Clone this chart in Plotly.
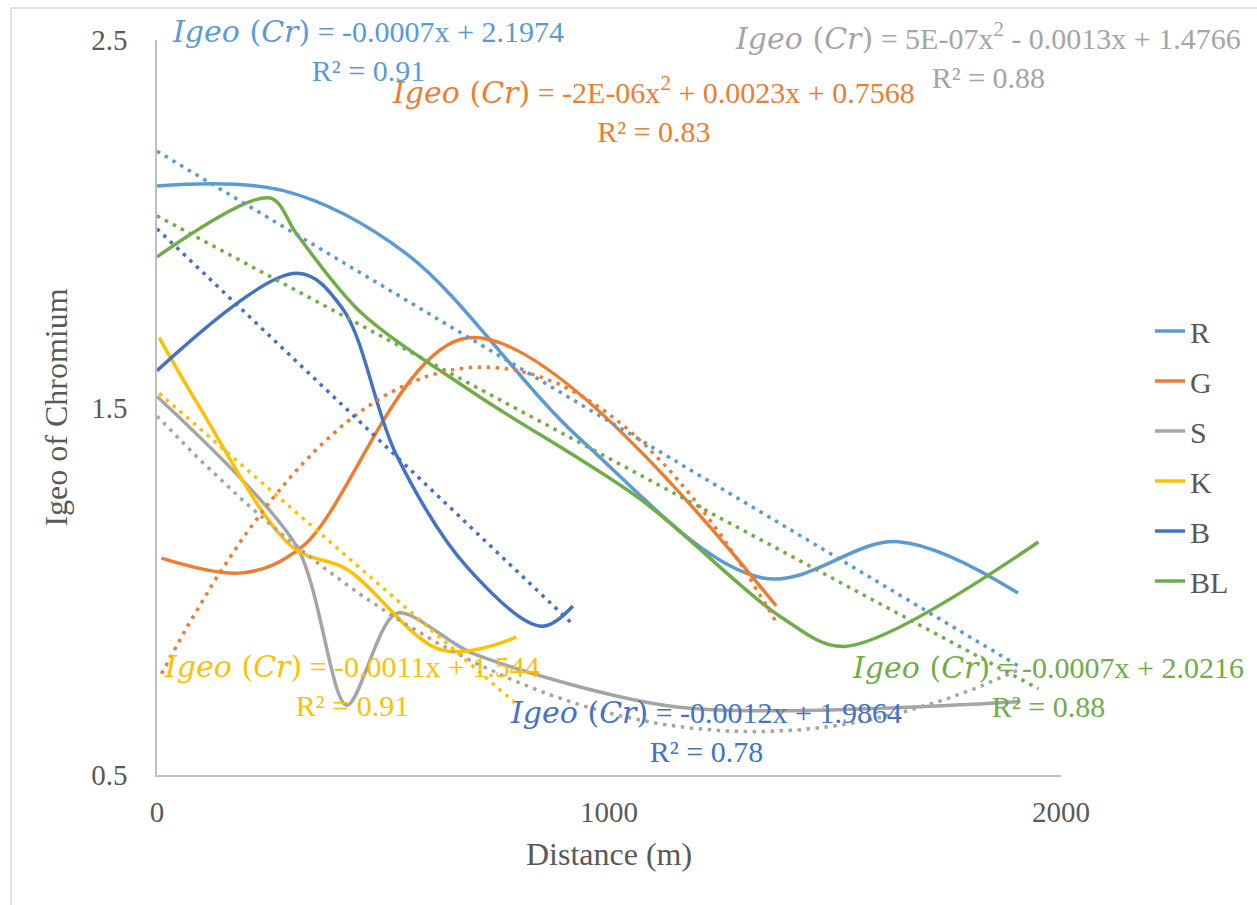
import numpy as np
import plotly.graph_objects as go

# ---------------- data ----------------
names = ["R", "G", "S", "K", "B", "BL"]
colors = ["#5B9BD5", "#ED7D31", "#A5A5A5", "#FFC000", "#4472C4", "#70AD47"]

R_x = [0, 280, 550, 940, 1340, 1640, 1905]
R_y = [2.103, 2.09, 1.92, 1.41, 1.036, 1.135, 0.995]

G_x = [10, 190, 320, 690, 1370]
G_y = [1.09, 1.05, 1.12, 1.69, 0.96]

S_x = [0, 310, 420, 530, 700, 1150, 1910]
S_y = [1.53, 1.12, 0.69, 0.94, 0.83, 0.685, 0.70]

K_x = [5, 90, 300, 420, 630, 795]
K_y = [1.69, 1.51, 1.12, 1.06, 0.84, 0.875]

B_x = [0, 310, 410, 530, 690, 850, 920]
B_y = [1.60, 1.865, 1.77, 1.37, 1.06, 0.905, 0.96]

BL_x = [0, 250, 310, 450, 700, 1070, 1380, 1520, 1950]
BL_y = [1.91, 2.07, 1.97, 1.76, 1.54, 1.25, 0.93, 0.85, 1.134]

smooth = [1.0, 1.0, 0.8, 1.0, 1.0, 0.9]

# trendline coefficients (highest power first), as drawn in the reference
R_trend = [-0.000735, 2.1974]
G_trend = [-1.65e-6, 0.00238, 0.752]
S_trend = [4.92e-7, -0.0013, 1.4766]
K_trend = [-0.00107, 1.544]
B_trend = [-0.00117, 1.9864]
BL_trend = [-0.00066, 2.0216]

trend_labels = [
    ("= -0.0007x + 2.1974", "R² = 0.91"),
    ("= -2E-06x<sup>2</sup> + 0.0023x + 0.7568", "R² = 0.83"),
    ("= 5E-07x<sup>2</sup> - 0.0013x + 1.4766", "R² = 0.88"),
    ("= -0.0011x + 1.544", "R² = 0.91"),
    ("= -0.0012x + 1.9864", "R² = 0.78"),
    ("= -0.0007x + 2.0216", "R² = 0.88"),
]

x_ticks = [0, 1000, 2000]
y_ticks = [0.5, 1.5, 2.5]

series_x = [R_x, G_x, S_x, K_x, B_x, BL_x]
series_y = [R_y, G_y, S_y, K_y, B_y, BL_y]
trends = [R_trend, G_trend, S_trend, K_trend, B_trend, BL_trend]

# ---------------- layout geometry ----------------
W, H = 1257, 905
ML, MR, MT, MB = 157, 196, 40, 130
PW, PH = W - ML - MR, H - MT - MB


def pxx(x):
    return (x - ML) / PW


def pxy(y):
    return (H - MB - y) / PH


SERIF = "Liberation Serif, Times New Roman, serif"
MATH = "DejaVu Serif, serif"
AXC = "#595959"

fig = go.Figure()

for n, c, xs, ys, sm in zip(names, colors, series_x, series_y, smooth):
    fig.add_trace(go.Scatter(
        x=xs, y=ys, mode="lines", name=n,
        line=dict(color=c, width=3.5, shape="spline", smoothing=sm),
        legendgroup=n, showlegend=True, hoverinfo="skip"))

for n, c, xs, tr in zip(names, colors, series_x, trends):
    tx = np.linspace(min(xs), max(xs), 200)
    fig.add_trace(go.Scatter(
        x=tx, y=np.polyval(tr, tx), mode="lines", name=n + " trend",
        line=dict(color=c, width=3.5, dash="3.5px,5.5px"),
        showlegend=False, hoverinfo="skip"))

# trendline label positions (pixel centres of the two-line blocks)
label_pos = [(368, 50), (653, 109), (988, 55), (352, 685), (706, 731), (1048, 686)]
for (eq, r2), c, (lx, ly) in zip(trend_labels, colors, label_pos):
    txt = (f"<span style='font-family:{MATH}'><i>Igeo</i> (<i>Cr</i>)</span> "
           f"{eq}<br>{r2}")
    fig.add_annotation(x=pxx(lx), y=pxy(ly), xref="paper", yref="paper",
                       text=txt, showarrow=False, align="center",
                       xanchor="center", yanchor="middle",
                       font=dict(family=SERIF, size=30, color=c))

# outer chart border
fig.add_shape(type="rect", xref="paper", yref="paper",
              x0=pxx(11), y0=pxy(8), x1=pxx(1300), y1=pxy(960),
              line=dict(color="#D9D9D9", width=1.5), layer="below")

fig.update_layout(
    width=W, height=H,
    margin=dict(l=ML, r=MR, t=MT, b=MB, pad=0),
    paper_bgcolor="white", plot_bgcolor="white",
    font=dict(family=SERIF, color=AXC),
    showlegend=True,
    legend=dict(x=pxx(1150), y=pxy(305), xanchor="left", yanchor="top",
                font=dict(family=SERIF, size=30, color=AXC),
                tracegroupgap=8, traceorder="grouped",
                bgcolor="rgba(0,0,0,0)", itemwidth=30),
    xaxis=dict(range=[0, 2000], tickvals=x_ticks, ticktext=[str(v) for v in x_ticks],
               showgrid=False, zeroline=False, showline=True, linecolor="#BFBFBF",
               linewidth=1.5, ticks="", tickfont=dict(size=29, color=AXC),
               ticklabelstandoff=10,
               title=dict(text="Distance (m)", font=dict(size=32, color=AXC), standoff=16)),
    yaxis=dict(range=[0.5, 2.5], tickvals=y_ticks, ticktext=[str(v) for v in y_ticks],
               showgrid=False, zeroline=False, showline=True, linecolor="#BFBFBF",
               linewidth=1.5, ticks="", tickfont=dict(size=29, color=AXC),
               ticklabelstandoff=22,
               title=dict(text="Igeo of Chromium", font=dict(size=32, color=AXC), standoff=14)),
)

fig.write_html("out.html")
